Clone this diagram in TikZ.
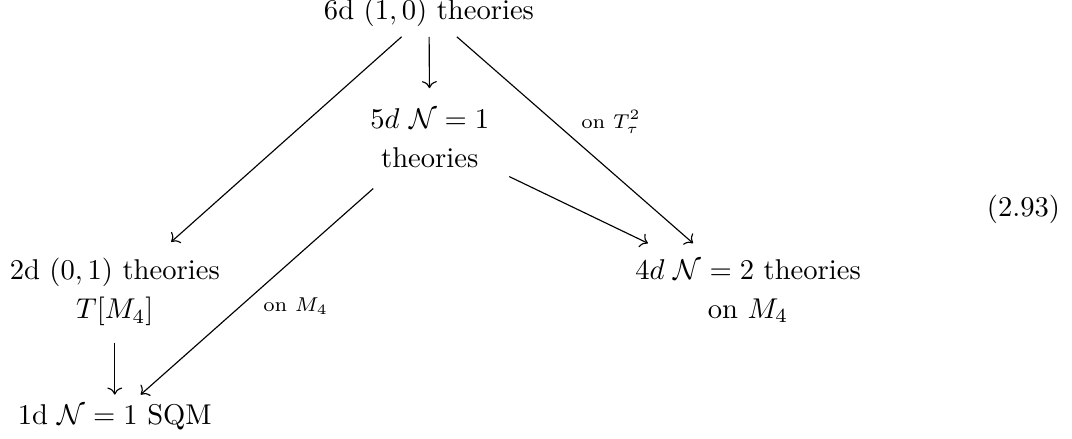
\documentclass[tikz,border=0pt]{standalone}
\usepackage{amsmath, amssymb}
\usetikzlibrary{arrows.meta, positioning}

\begin{document}
\begin{tikzpicture}[
  thy/.style={align=center, inner xsep=6.8pt, inner ysep=5.6pt},
  arr/.style={->},
  lbl/.style={font=\scriptsize, inner sep=2pt}
]
  \useasboundingbox (0,0) rectangle (13.17,5.39);
  % theories in each dimension
  \node[anchor=base] (six) at (5.27,5.15) {6d $(1,0)$ theories};
  \node[thy, inner ysep=7pt] (five) at (5.28,3.69) {$5d$ $\mathcal{N}=1$\\[1.6pt] theories};
  \node[thy] (two) at (1.41,1.80) {2d $(0,1)$ theories\\[1.6pt] $T[M_4]$};
  \node[thy] (four) at (9.19,1.81) {$4d$ $\mathcal{N}=2$ theories\\[1.6pt] on $M_4$};
  \node[anchor=base] (one) at (1.41,0.17) {1d $\mathcal{N}=1$ SQM};
  \node[anchor=base east, inner sep=0pt] (eqno) at (13.03,2.73) {(2.93)};

  \draw[arr] (six) -- (five);
  \draw[arr] (six) -- (two);
  \draw[arr] (six) -- node[lbl, above right] {on $T^2_\tau$} (four);
  \draw[arr] (five) -- (four);
  \draw[arr] (five) -- node[lbl, below right] {on $M_4$} (one);
  \draw[arr] (two) -- (one);
\end{tikzpicture}
\end{document}
